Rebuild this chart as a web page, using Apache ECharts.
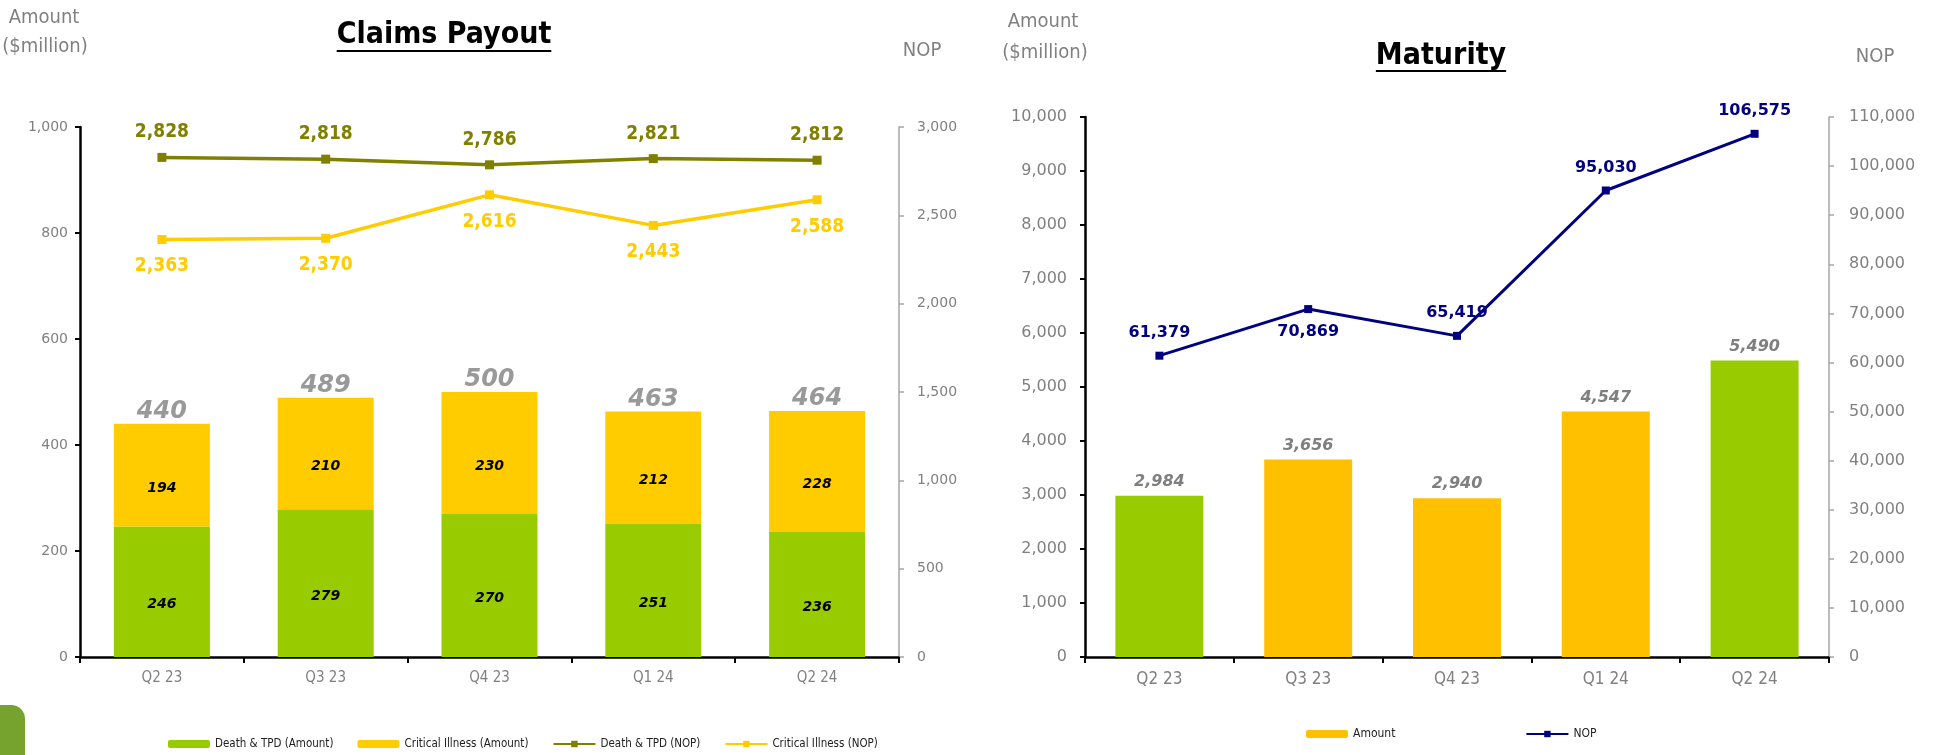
<!DOCTYPE html>
<html><head><meta charset="utf-8">
<script src="https://cdn.jsdelivr.net/npm/echarts@6/dist/echarts.min.js"></script>
<style>html,body{margin:0;padding:0;background:#fff}#c{width:1940px;height:755px}</style>
</head><body><div id="c"></div>
<script>
// ---- data ----
const categories = ['Q2 23', 'Q3 23', 'Q4 23', 'Q1 24', 'Q2 24'];
const deathAmount = [246, 279, 270, 251, 236];
const ciAmount = [194, 210, 230, 212, 228];
const claimTotals = [440, 489, 500, 463, 464];
const deathNop = [2828, 2818, 2786, 2821, 2812];
const ciNop = [2363, 2370, 2616, 2443, 2588];
const maturityAmount = [2984, 3656, 2940, 4547, 5490];
const maturityNop = [61379, 70869, 65419, 95030, 106575];

// ---- styling ----
const NARROW = "'Liberation Sans Narrow','DejaVu Sans Condensed','Liberation Sans',sans-serif";
const VERD = "'DejaVu Sans',Verdana,sans-serif";
const GREEN = '#99CC00', GOLD = '#FFCC00', GOLD2 = '#FFC000', OLIVE = '#808000', NAVY = '#000080';
const greenCats = ['Q2 23', 'Q2 24'];
const fmt = v => Number(v).toLocaleString('en-US');

const ctx = document.createElement('canvas').getContext('2d');
function textW(t, font) { ctx.font = font; return ctx.measureText(t).width; }
const titleFont = 'bold 30px ' + NARROW;
const w1 = textW('Claims Payout', titleFont), w2 = textW('Maturity', titleFont);

const chart = echarts.init(document.getElementById('c'), null, {renderer: 'canvas'});

function xAx(g, fs) {
  return {
    gridIndex: g, type: 'category', data: categories,
    axisLine: {lineStyle: {color: '#000', width: 2.5}},
    axisTick: {show: true, length: 6, lineStyle: {color: '#000', width: 2}},
    axisLabel: {color: '#808080', fontFamily: NARROW, fontSize: fs, margin: 14}
  };
}
function yAx(g, max, interval, pos, dark, fs, margin) {
  const col = dark ? '#000' : '#A6A6A6';
  return {
    gridIndex: g, type: 'value', min: 0, max: max, interval: interval, position: pos,
    axisLine: {show: true, lineStyle: {color: col, width: dark ? 2.5 : 1.5}},
    axisTick: {show: true, length: 5, lineStyle: {color: col, width: dark ? 2 : 1.5}},
    splitLine: {show: false},
    axisLabel: {color: '#808080', fontFamily: VERD, fontSize: fs, margin: margin, formatter: fmt}
  };
}

const barInLabel = {
  show: true, position: 'inside', offset: [0, 13], color: '#000',
  fontFamily: VERD, fontWeight: 'bold', fontStyle: 'italic', fontSize: 14, formatter: p => fmt(p.value)
};

chart.setOption({
  animation: false,
  backgroundColor: '#fff',
  grid: [
    {left: 80, right: 1041, top: 127, bottom: 98},
    {left: 1085, right: 111, top: 117, bottom: 98}
  ],
  xAxis: [xAx(0, 15), xAx(1, 17)],
  yAxis: [
    yAx(0, 1000, 200, 'left', true, 14, 12),
    yAx(0, 3000, 500, 'right', false, 14, 18),
    yAx(1, 10000, 1000, 'left', true, 16, 18),
    yAx(1, 110000, 10000, 'right', false, 16, 20)
  ],
  legend: [
    {
      data: ['Death & TPD (Amount)', 'Critical Illness (Amount)', 'Death & TPD (NOP)', 'Critical Illness (NOP)'],
      left: 163, top: 733, itemWidth: 42, itemHeight: 8, itemGap: 24,
      textStyle: {fontFamily: NARROW, fontSize: 11.5, color: '#222'}
    },
    {
      data: [{name: 'Amount', itemStyle: {color: GOLD2}}, 'NOP'],
      left: 1301, top: 723, itemWidth: 42, itemHeight: 8, itemGap: 130,
      textStyle: {fontFamily: NARROW, fontSize: 12, color: '#222'}
    }
  ],
  series: [
    {
      name: 'Death & TPD (Amount)', type: 'bar', xAxisIndex: 0, yAxisIndex: 0, stack: 'claims',
      barWidth: 96, data: deathAmount, itemStyle: {color: GREEN}, label: barInLabel
    },
    {
      name: 'Critical Illness (Amount)', type: 'bar', xAxisIndex: 0, yAxisIndex: 0, stack: 'claims',
      barWidth: 96, data: ciAmount, itemStyle: {color: GOLD}, label: barInLabel
    },
    {
      name: 'Total', type: 'scatter', xAxisIndex: 0, yAxisIndex: 0, data: claimTotals,
      symbolSize: 0, silent: true, z: 5,
      label: {show: true, position: 'top', distance: 0, color: '#7F7F7F', fontFamily: VERD,
        fontWeight: 'bold', fontStyle: 'italic', fontSize: 24, formatter: p => fmt(p.value)}
    },
    {
      name: 'Death & TPD (NOP)', type: 'line', xAxisIndex: 0, yAxisIndex: 1, data: deathNop,
      symbol: 'rect', symbolSize: 9, z: 6,
      lineStyle: {color: OLIVE, width: 3.5}, itemStyle: {color: OLIVE},
      label: {show: true, position: 'top', distance: 11, color: OLIVE, fontFamily: NARROW,
        fontWeight: 'bold', fontSize: 19, formatter: p => fmt(p.value)}
    },
    {
      name: 'Critical Illness (NOP)', type: 'line', xAxisIndex: 0, yAxisIndex: 1, data: ciNop,
      symbol: 'rect', symbolSize: 9, z: 6,
      lineStyle: {color: GOLD, width: 3.5}, itemStyle: {color: GOLD},
      label: {show: true, position: 'bottom', distance: 13, color: GOLD, fontFamily: NARROW,
        fontWeight: 'bold', fontSize: 19, formatter: p => fmt(p.value)}
    },
    {
      name: 'Amount', type: 'bar', xAxisIndex: 1, yAxisIndex: 2, barWidth: 88, data: maturityAmount,
      itemStyle: {color: p => greenCats.includes(categories[p.dataIndex]) ? GREEN : GOLD2},
      label: {show: true, position: 'top', distance: 6, color: '#7F7F7F', fontFamily: VERD,
        fontWeight: 'bold', fontStyle: 'italic', fontSize: 16, formatter: p => fmt(p.value)}
    },
    {
      name: 'NOP', type: 'line', xAxisIndex: 1, yAxisIndex: 3, symbol: 'rect', symbolSize: 8, z: 6,
      data: maturityNop.map((v, i) => categories[i] === 'Q3 23' ? {value: v, label: {position: 'bottom'}} : v),
      lineStyle: {color: NAVY, width: 3}, itemStyle: {color: NAVY},
      label: {show: true, position: 'top', distance: 11, color: NAVY, fontFamily: VERD,
        fontWeight: 'bold', fontSize: 16, formatter: p => fmt(p.value)}
    }
  ],
  graphic: [
    {type: 'text', x: 44, y: 18, style: {text: 'Amount', font: '20px ' + NARROW, fill: '#808080', align: 'center', verticalAlign: 'middle'}},
    {type: 'text', x: 45, y: 47, style: {text: '($million)', font: '20px ' + NARROW, fill: '#808080', align: 'center', verticalAlign: 'middle'}},
    {type: 'text', x: 922, y: 51, style: {text: 'NOP', font: '20px ' + NARROW, fill: '#808080', align: 'center', verticalAlign: 'middle'}},
    {type: 'text', x: 1043, y: 22, style: {text: 'Amount', font: '20px ' + NARROW, fill: '#808080', align: 'center', verticalAlign: 'middle'}},
    {type: 'text', x: 1045, y: 53, style: {text: '($million)', font: '20px ' + NARROW, fill: '#808080', align: 'center', verticalAlign: 'middle'}},
    {type: 'text', x: 1875, y: 57, style: {text: 'NOP', font: '20px ' + NARROW, fill: '#808080', align: 'center', verticalAlign: 'middle'}},
    {type: 'text', x: 444, y: 35, style: {text: 'Claims Payout', font: titleFont, fill: '#000', align: 'center', verticalAlign: 'middle'}},
    {type: 'line', shape: {x1: 444 - w1 / 2, y1: 51, x2: 444 + w1 / 2, y2: 51}, style: {stroke: '#000', lineWidth: 2}},
    {type: 'text', x: 1441, y: 56, style: {text: 'Maturity', font: titleFont, fill: '#000', align: 'center', verticalAlign: 'middle'}},
    {type: 'line', shape: {x1: 1441 - w2 / 2, y1: 71, x2: 1441 + w2 / 2, y2: 71}, style: {stroke: '#000', lineWidth: 2}},
    {type: 'rect', shape: {x: -25, y: 705, width: 50, height: 90, r: 14}, style: {fill: '#76A22E'}}
  ]
});
</script>
</body></html>
